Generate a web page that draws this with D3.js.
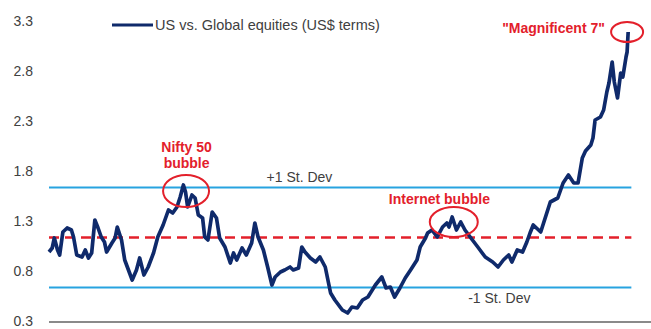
<!DOCTYPE html>
<html>
<head>
<meta charset="utf-8">
<script src="https://d3js.org/d3.v7.min.js"></script>
<style>
  body { margin: 0; background: #fff; }
  svg { display: block; }
</style>
</head>
<body>
<svg id="chart"></svg>
<script>
// ---------------------------
// DATA
// ---------------------------
var years = [
  1970.0, 1970.3, 1970.5, 1970.8, 1971.0, 1971.3, 1971.7, 1972.1, 1972.3, 1972.6,
  1973.1, 1973.4, 1973.7, 1974.0, 1974.3, 1974.6, 1974.9, 1975.2, 1975.4, 1975.9,
  1976.2, 1976.4, 1976.8, 1977.1, 1977.8, 1978.2, 1978.5, 1978.9, 1979.3, 1979.8,
  1980.2, 1980.7, 1981.2, 1981.6, 1982.0, 1982.3, 1982.6, 1982.8, 1983.0, 1983.4,
  1983.7, 1984.0, 1984.4, 1984.6, 1984.9, 1985.3, 1985.7, 1986.0, 1986.5, 1987.0,
  1987.3, 1987.6, 1988.1, 1988.5, 1989.0, 1989.3, 1989.6, 1990.1, 1990.5, 1990.9,
  1991.2, 1991.7, 1992.1, 1992.6, 1992.9, 1993.4, 1993.7, 1994.0, 1994.5, 1995.0,
  1995.4, 1995.9, 1996.4, 1996.8, 1997.5, 1998.0, 1998.4, 1998.9, 1999.4, 1999.9,
  2000.6, 2001.2, 2001.6, 2002.0, 2002.4, 2002.9, 2003.4, 2003.9, 2004.5, 2004.8,
  2005.3, 2005.5, 2005.9, 2006.4, 2006.9, 2007.3, 2007.5, 2007.8, 2008.2, 2008.6,
  2009.0, 2009.7, 2010.2, 2010.9, 2011.6, 2012.1, 2012.6, 2013.1, 2013.4, 2013.9,
  2014.4, 2014.8, 2015.1, 2015.4, 2016.1, 2017.0, 2017.7, 2018.2, 2018.7, 2019.2,
  2019.6, 2020.0, 2020.3, 2020.8, 2021.0, 2021.2, 2021.7, 2022.0, 2022.3, 2022.5,
  2022.8, 2023.0, 2023.3, 2023.6, 2023.8, 2024.1, 2024.2, 2024.3
];
var usVsGlobal = [
  0.99, 1.03, 1.13, 1.01, 0.96, 1.19, 1.23, 1.21, 1.14, 0.96,
  0.94, 1.01, 0.93, 0.98, 1.31, 1.23, 1.14, 1.09, 0.99, 1.08,
  1.13, 1.24, 1.11, 0.91, 0.71, 0.81, 0.93, 0.76, 0.84, 0.98,
  1.14, 1.26, 1.41, 1.38, 1.44, 1.54, 1.66, 1.59, 1.44, 1.56,
  1.53, 1.36, 1.33, 1.14, 1.11, 1.39, 1.33, 1.13, 1.04, 0.88,
  0.98, 0.91, 1.03, 0.96, 1.08, 1.28, 1.14, 1.01, 0.84, 0.66,
  0.74, 0.79, 0.81, 0.84, 0.81, 0.83, 1.04, 0.99, 0.93, 0.89,
  0.94, 0.84, 0.58, 0.51, 0.41, 0.38, 0.44, 0.43, 0.51, 0.54,
  0.66, 0.74, 0.63, 0.64, 0.54, 0.63, 0.73, 0.81, 0.91, 1.04,
  1.13, 1.18, 1.21, 1.14, 1.24, 1.28, 1.24, 1.34, 1.21, 1.29,
  1.21, 1.11, 1.04, 0.94, 0.89, 0.84, 0.91, 0.96, 0.89, 1.01,
  0.99, 1.09, 1.18, 1.26, 1.19, 1.49, 1.53, 1.68, 1.76, 1.68,
  1.68, 1.93, 2.00, 2.06, 2.13, 2.31, 2.34, 2.41, 2.59, 2.68,
  2.89, 2.69, 2.53, 2.78, 2.74, 2.94, 2.99, 3.19
];
var yTicks = [0.3, 0.8, 1.3, 1.8, 2.3, 2.8, 3.3];
var meanValue = 1.135;
var stDev = 0.5;
var seriesLabel = "US vs. Global equities (US$ terms)";

// annotations
var calloutTexts = [
  { lines: ["Nifty 50", "bubble"], year: 1982.9, value: 1.99 },
  { lines: ["Internet bubble"], year: 2006.6, value: 1.47 },
  { lines: ["\"Magnificent 7\""], year: 2017.3, value: 3.18 }
];
var calloutCircles = [
  { year: 1982.85, value: 1.60, rx: 23, ry: 16 },
  { year: 2007.95, value: 1.29, rx: 24, ry: 15 },
  { year: 2024.2, value: 3.19, rx: 16, ry: 10 }
];

// ---------------------------
// CONSTANTS
// ---------------------------
var canvasWidth = 651;
var canvasHeight = 329;
var plotLeft = 49;
var plotRight = 630.3;
var plotTop = 21;
var plotBottom = 321;
var myFont = "'Liberation Sans', Arial, sans-serif";
var navy = "#0f2a6b";
var lightBlue = "#27a3e0";
var red = "#e3202b";
var textGrey = "#404040";

var svg = d3.select("#chart")
  .attr("width", canvasWidth)
  .attr("height", canvasHeight)
  .attr("font-family", myFont);

var x = d3.scaleLinear().domain([1970, 2024.5]).range([plotLeft, plotRight]);
var y = d3.scaleLinear().domain([0.3, 3.3]).range([plotBottom, plotTop]);

// ---------------------------
// Y AXIS (labels only)
// ---------------------------
var yAxis = svg.append("g")
  .attr("transform", "translate(36,0)")
  .call(d3.axisLeft(y).tickValues(yTicks).tickSize(0).tickPadding(3).tickFormat(d3.format(".1f")));
yAxis.select(".domain").remove();
yAxis.selectAll("text")
  .attr("font-family", myFont)
  .attr("font-size", 14)
  .attr("fill", textGrey);

// bottom axis line
svg.append("line")
  .attr("x1", x(1970)).attr("x2", canvasWidth)
  .attr("y1", y(0.3) + 1).attr("y2", y(0.3) + 1)
  .attr("stroke", "#8a8a8a")
  .attr("stroke-width", 2);

// ---------------------------
// ST DEV BANDS + MEAN
// ---------------------------
[meanValue + stDev, meanValue - stDev].forEach(function(v) {
  svg.append("line")
    .attr("x1", x(1970)).attr("x2", x(2024.6))
    .attr("y1", y(v)).attr("y2", y(v))
    .attr("stroke", lightBlue)
    .attr("stroke-width", 2.2);
});

svg.append("line")
  .attr("x1", x(1970)).attr("x2", x(2024.6))
  .attr("y1", y(meanValue)).attr("y2", y(meanValue))
  .attr("stroke", red)
  .attr("stroke-width", 2.5)
  .attr("stroke-dasharray", "10,6");

svg.append("text")
  .attr("x", x(1990.4))
  .attr("y", y(meanValue + stDev) - 6)
  .attr("font-size", 14)
  .attr("fill", textGrey)
  .text("+1 St. Dev");

svg.append("text")
  .attr("x", x(2009.3))
  .attr("y", y(meanValue - stDev) + 15)
  .attr("font-size", 14)
  .attr("fill", textGrey)
  .text("-1 St. Dev");

// ---------------------------
// SERIES LINE
// ---------------------------
var series = years.map(function(yr, i) { return { year: yr, value: usVsGlobal[i] }; });

svg.append("path")
  .datum(series)
  .attr("fill", "none")
  .attr("stroke", navy)
  .attr("stroke-width", 3.7)
  .attr("stroke-linejoin", "round")
  .attr("d", d3.line().x(function(d) { return x(d.year); }).y(function(d) { return y(d.value); }));

// ---------------------------
// LEGEND
// ---------------------------
svg.append("line")
  .attr("x1", 112).attr("x2", 153)
  .attr("y1", 25).attr("y2", 25)
  .attr("stroke", navy)
  .attr("stroke-width", 3);

svg.append("text")
  .attr("x", 155)
  .attr("y", 30)
  .attr("font-size", 14.5)
  .attr("fill", textGrey)
  .text(seriesLabel);

// ---------------------------
// CALLOUTS
// ---------------------------
calloutCircles.forEach(function(c) {
  svg.append("ellipse")
    .attr("cx", x(c.year))
    .attr("cy", y(c.value))
    .attr("rx", c.rx)
    .attr("ry", c.ry)
    .attr("fill", "none")
    .attr("stroke", red)
    .attr("stroke-width", 2);
});

calloutTexts.forEach(function(c) {
  var t = svg.append("text")
    .attr("text-anchor", "middle")
    .attr("font-size", 14)
    .attr("font-weight", "bold")
    .attr("fill", red);
  c.lines.forEach(function(line, i) {
    t.append("tspan")
      .attr("x", x(c.year))
      .attr("y", y(c.value) + i * 16)
      .text(line);
  });
});
</script>
</body>
</html>
